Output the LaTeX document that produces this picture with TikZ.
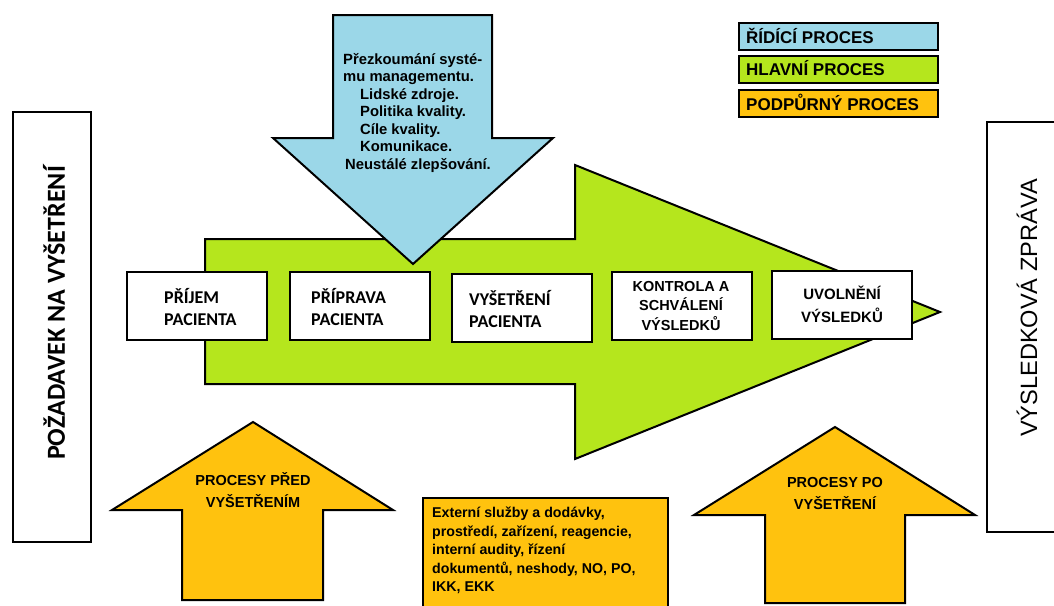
\documentclass[tikz,border=0pt]{standalone}
\usepackage{fontspec}
\setmainfont{Liberation Sans}
\newfontfamily\carl{Carlito}
\definecolor{ctrlblue}{HTML}{9BD7E8}
\definecolor{maingreen}{HTML}{B5E61D}
\definecolor{supporange}{HTML}{FFC20E}
\tikzset{
  outl/.style={draw=black, line width=2pt, line join=miter},
  procbox/.style={outl, fill=white, rectangle, minimum width=140pt, minimum height=68pt, inner sep=0pt},
  legbox/.style={outl, rectangle, minimum width=199pt, minimum height=27pt, inner sep=0pt},
  legtxt/.style={anchor=west, font=\fontsize{17}{18}\selectfont\bfseries, inner sep=0pt},
  caltxt/.style={anchor=west, align=left, font=\carl\fontsize{18}{22}\selectfont\bfseries, inner sep=0pt},
  arialtxt/.style={align=center, font=\fontsize{14.5}{22}\selectfont\bfseries, inner sep=0pt},
}
\begin{document}
\begin{tikzpicture}[x=1pt,y=-1pt]
\useasboundingbox (0,0) rectangle (1054,605);
\clip (0,0) rectangle (1054,605);
% green main arrow
\draw[outl, fill=maingreen] (205,239) -- (575,239) -- (575,165) -- (940,312) -- (575,459) -- (575,384) -- (205,384) -- cycle;
% blue control arrow
\draw[outl, fill=ctrlblue] (333,15) -- (492,15) -- (492,138) -- (553,138) -- (413,264) -- (273,138) -- (333,138) -- cycle;
\node[anchor=north west, align=left, inner sep=0pt, font=\fontsize{14.8}{17.5}\selectfont\bfseries] (ctrltext) at (343,53)
 {Přezkoumání systé-\\
  mu managementu.\\
  \hspace*{17pt}Lidské zdroje.\\
  \hspace*{17pt}Politika kvality.\\
  \hspace*{17pt}Cíle kvality.\\
  \hspace*{17pt}Komunikace.\\
  \hspace*{2pt}Neustálé zlepšování.};
% orange support arrows
\draw[outl, fill=supporange] (253,422) -- (393,510) -- (323,510) -- (323,600) -- (182,600) -- (182,510) -- (112,510) -- cycle;
\draw[outl, fill=supporange] (835,427) -- (975,515) -- (905,515) -- (905,603) -- (765,603) -- (765,515) -- (694,515) -- cycle;
\node[arialtxt] (pre) at (253,490) {PROCESY PŘED\\VYŠETŘENÍM};
\node[arialtxt] (post) at (835,493.5) {PROCESY PO\\VYŠETŘENÍ};
% orange support box
\draw[outl, fill=supporange] (423,498) rectangle (668,615);
\node[anchor=north west, align=left, inner sep=0pt, font=\fontsize{14.2}{18.5}\selectfont\bfseries] (supptext) at (432,507)
 {Externí služby a dodávky,\\
  prostředí, zařízení, reagencie,\\
  interní audity, řízení\\
  dokumentů, neshody, NO, PO,\\
  IKK, EKK};
% process boxes
\node[procbox] (p1) at (197,306) {};
\node[procbox] (p2) at (360,306) {};
\node[procbox] (p3) at (522,307.5) {};
\node[procbox] (p4) at (682,306) {};
\node[procbox] (p5) at (842,305) {};
\node[caltxt] (t1) at (164,306.5) {PŘÍJEM\\PACIENTA};
\node[caltxt] (t2) at (311,306.5) {PŘÍPRAVA\\PACIENTA};
\node[caltxt] (t3) at (469,309) {VYŠETŘENÍ\\PACIENTA};
\node[align=center, inner sep=0pt, font=\fontsize{14.5}{19.5}\selectfont\bfseries] (t4) at (681,306) {KONTROLA A\\SCHVÁLENÍ\\VÝSLEDKŮ};
\node[align=center, inner sep=0pt, font=\fontsize{15}{22.5}\selectfont\bfseries] (t5) at (842,304.5) {UVOLNĚNÍ\\VÝSLEDKŮ};
% side boxes
\draw[outl, fill=white] (13,112) rectangle (91,542);
\node[rotate=90, inner sep=0pt, font=\carl\fontsize{26}{28}\selectfont\bfseries] (req) at (54,313) {POŽADAVEK NA VYŠETŘENÍ};
\draw[outl, fill=white] (987,122) rectangle (1070,532);
\node[rotate=90, inner sep=0pt, font=\fontsize{23.6}{26}\selectfont] (rep) at (1027,308) {VÝSLEDKOVÁ ZPRÁVA};
% legend
\node[legbox, fill=ctrlblue, anchor=north west] (l1) at (738,22) {};
\node[legbox, fill=maingreen, anchor=north west] (l2) at (738,55) {};
\node[legbox, fill=supporange, anchor=north west] (l3) at (738,89) {};
\node[legtxt] (lt1) at (746,35.5) {ŘÍDÍCÍ PROCES};
\node[legtxt] (lt2) at (746,68.5) {HLAVNÍ PROCES};
\node[legtxt] (lt3) at (746,102.5) {PODPŮRNÝ PROCES};
\end{tikzpicture}
\end{document}
